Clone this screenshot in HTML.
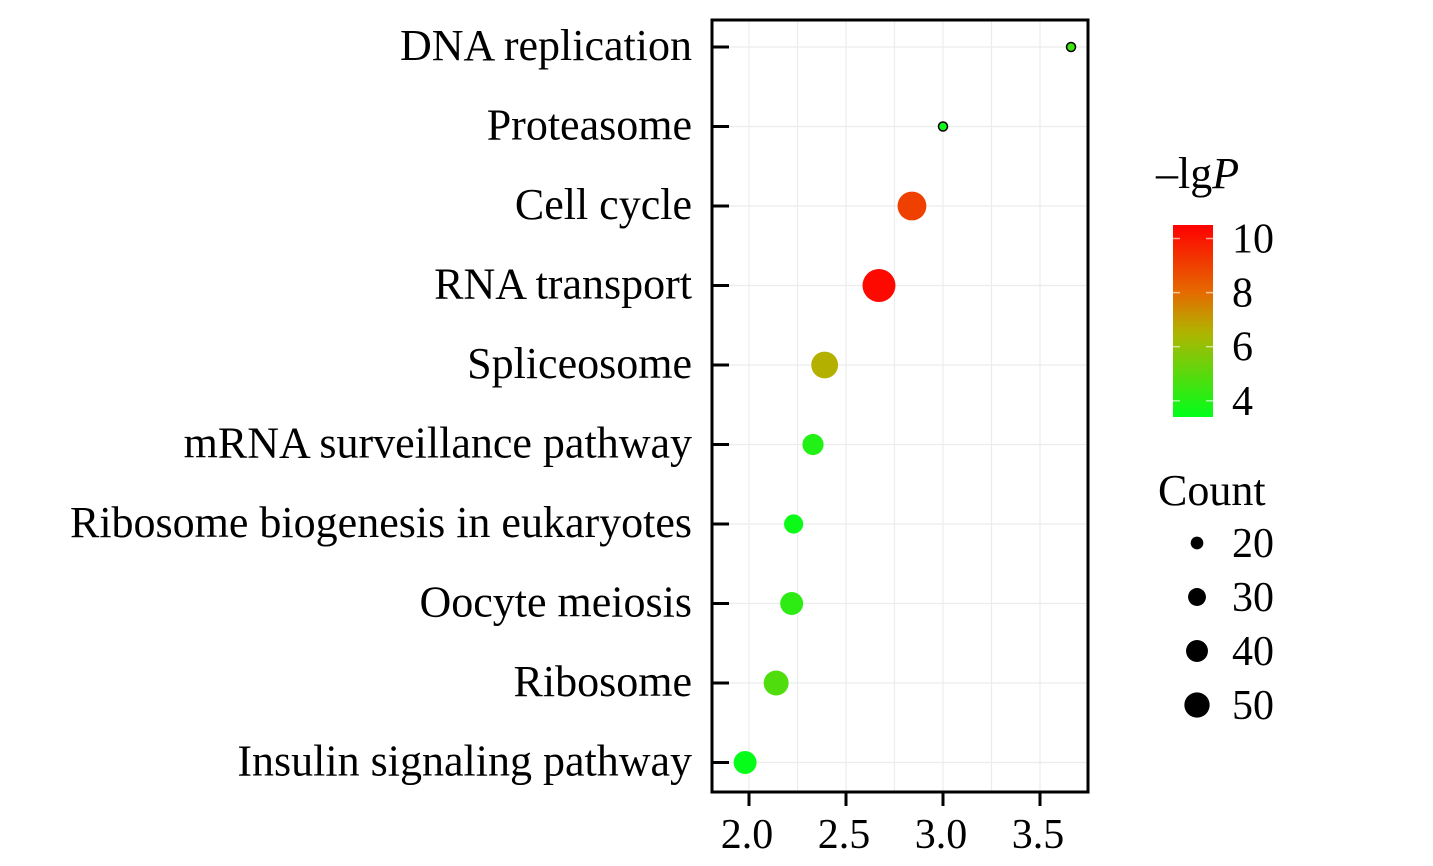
<!DOCTYPE html>
<html><head><meta charset="utf-8"><style>
body{margin:0;background:#fff}
svg{display:block;font-family:"Liberation Serif",serif}
</style></head><body>
<svg id="chart" width="1433" height="866" xmlns="http://www.w3.org/2000/svg">
<defs><linearGradient id="cb" x1="0" y1="1" x2="0" y2="0">
<stop offset="0" stop-color="#00ff1a"/><stop offset="0.44" stop-color="#b0b400"/><stop offset="0.65" stop-color="#e56a00"/><stop offset="1" stop-color="#ff0000"/></linearGradient></defs>
<g id="grid"></g>
<g id="marks"></g>
<rect x="712" y="20" width="376" height="772" fill="none" stroke="#000" stroke-width="3"/>
<g id="axes"></g>
<g>
<text x="1156" y="188" font-size="44">–lg<tspan font-style="italic">P</tspan></text>
<rect x="1173" y="225" width="40" height="192" fill="url(#cb)"/>
<g id="cbticks"></g>
</g>
<g id="sizeleg">
<text x="1158" y="505" font-size="44">Count</text>
</g>
</svg>
<script>
const categories=["DNA replication","Proteasome","Cell cycle","RNA transport","Spliceosome","mRNA surveillance pathway","Ribosome biogenesis in eukaryotes","Oocyte meiosis","Ribosome","Insulin signaling pathway"];
const xValues=[3.66,3.0,2.84,2.67,2.39,2.33,2.23,2.22,2.14,1.98];
const counts=[16,16,62,78,55,38,33,43,49,43];
const lgP=[4.5,3.7,9.0,10.3,6.6,4.0,3.6,4.2,4.8,3.5];
const xTicks=[2.0,2.5,3.0,3.5];
const xGrid=[2.0,2.25,2.5,2.75,3.0,3.25,3.5,3.75];
const cTicks=[4,6,8,10];
const sizeBreaks=[20,30,40,50];
const NS="http://www.w3.org/2000/svg";
const x=v=>749+(v-2)*194;
const y=i=>47+i*79.5;
const r=c=>Math.sqrt(Math.max(4*c-40,9));
const cy=v=>417-(v-3.4)/(10.5-3.4)*192;
function col(v){const t=Math.max(0,Math.min(1,(v-3.4)/7.1));
 const s=[[0,[0,255,26]],[0.44,[176,180,0]],[0.65,[229,106,0]],[1,[255,0,0]]];
 for(let k=1;k<s.length;k++){if(t<=s[k][0]){const a=s[k-1],b=s[k],u=(t-a[0])/(b[0]-a[0]);
 return "rgb("+a[1].map((q,j)=>Math.round(q+(b[1][j]-q)*u)).join(",")+")";}}return "rgb(255,0,0)";}
function el(t,a,p){const e=document.createElementNS(NS,t);for(const k in a)e.setAttribute(k,a[k]);p.appendChild(e);return e;}
const g=document.getElementById("grid"),m=document.getElementById("marks"),ax=document.getElementById("axes");
xGrid.forEach(v=>{const l=el("line",{x1:x(v),x2:x(v),y1:20,y2:792,stroke:"#ececec","stroke-width":1.2},g);

});
categories.forEach((c,i)=>{const l=el("line",{x1:712,x2:1088,y1:y(i),y2:y(i),stroke:"#ececec","stroke-width":1.2},g);


const tk=el("line",{x1:712,x2:729,y1:y(i),y2:y(i),stroke:"#000","stroke-width":3},ax);


const t=el("text",{x:692,y:y(i)+13,"text-anchor":"end","font-size":44},ax);t.textContent=c;


const small=counts[i]<20;
const p=el("circle",{cx:x(xValues[i]),cy:y(i),r:small?4.5:r(counts[i]),fill:col(lgP[i]),stroke:small?"#000":"none","stroke-width":1.5},m);

});
xTicks.forEach(v=>{const tk=el("line",{x1:x(v),x2:x(v),y1:792,y2:806,stroke:"#000","stroke-width":3},ax);


const t=el("text",{x:x(v)-2,y:848,"text-anchor":"middle","font-size":42},ax);t.textContent=v.toFixed(1);

});
const cbt=document.getElementById("cbticks");
cTicks.forEach(v=>{const a=el("line",{x1:1173,x2:1180,y1:cy(v),y2:cy(v),stroke:"#fff","stroke-opacity":0.6,"stroke-width":1.5},cbt);


const b=el("line",{x1:1206,x2:1213,y1:cy(v),y2:cy(v),stroke:"#fff","stroke-opacity":0.6,"stroke-width":1.5},cbt);


const t=el("text",{x:1232,y:cy(v)+14,"font-size":42},cbt);t.textContent=v;

});
const sl=document.getElementById("sizeleg");
sizeBreaks.forEach((v,i)=>{const yy=543+i*54;
const c=el("circle",{cx:1197,cy:yy,r:r(v),fill:"#000"},sl);


const t=el("text",{x:1232,y:yy+14,"font-size":42},sl);t.textContent=v;

});
</script>
</body></html>
